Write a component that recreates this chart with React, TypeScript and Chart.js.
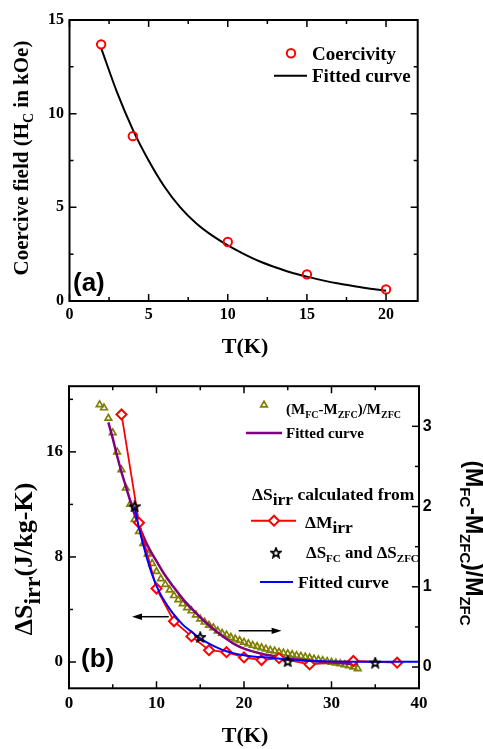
import React, { useEffect, useRef } from 'react';
import { Chart, registerables } from 'chart.js';

Chart.register(...registerables);

const SERIF = "'Liberation Serif', 'Times New Roman', serif";
const SANS = "'Liberation Sans', Arial, sans-serif";

// ---------- panel (a) ----------
const A_T = [2, 4, 10, 15, 20];
const A_HC = [13.7, 8.8, 3.15, 1.42, 0.62];
const A_FIT_T = [2, 3, 4, 5, 6, 7, 8, 9, 10, 11, 12, 13, 14, 15, 16, 17, 18, 19, 20];
const A_FIT_HC = [13.5, 11.15, 9.15, 7.5, 6.1, 5.0, 4.15, 3.5, 2.97, 2.52, 2.12, 1.8, 1.52, 1.3, 1.1, 0.93, 0.79, 0.66, 0.55];
const A_X_MAJOR = [0, 5, 10, 15, 20];
const A_X_MINOR = [2.5, 7.5, 12.5, 17.5];
const A_Y_MAJOR = [0, 5, 10, 15];
const A_Y_MINOR = [2.5, 7.5, 12.5];

// ---------- panel (b) ----------
const B_TRI_T = [3.5, 4, 4.5, 5, 5.5, 6, 6.5, 7, 7.5, 8, 8.5, 9, 9.5, 10, 10.5, 11, 11.5, 12, 12.5, 13, 13.5, 14, 14.5, 15, 15.5, 16, 16.5, 17, 17.5, 18, 18.5, 19, 19.5, 20, 20.5, 21, 21.5, 22, 22.5, 23, 23.5, 24, 24.5, 25, 25.5, 26, 26.5, 27, 27.5, 28, 28.5, 29, 29.5, 30, 30.5, 31, 31.5, 32, 32.5, 33];
const B_TRI_W = [3.27, 3.23, 3.10, 2.92, 2.68, 2.46, 2.23, 2.03, 1.84, 1.69, 1.54, 1.41, 1.29, 1.19, 1.10, 1.03, 0.96, 0.89, 0.84, 0.79, 0.74, 0.70, 0.65, 0.60, 0.56, 0.52, 0.49, 0.45, 0.42, 0.40, 0.37, 0.35, 0.33, 0.31, 0.29, 0.27, 0.255, 0.24, 0.225, 0.21, 0.20, 0.185, 0.175, 0.165, 0.155, 0.145, 0.135, 0.125, 0.115, 0.10, 0.09, 0.08, 0.07, 0.06, 0.05, 0.04, 0.03, 0.015, 0.0, -0.02];
const B_PUR_T = [4.5, 5, 5.5, 6, 6.5, 7, 7.5, 8, 8.5, 9, 9.5, 10, 11, 12, 13, 14, 15, 16, 17, 18, 19, 20, 22, 24, 26, 28, 30, 33];
const B_PUR_W = [3.05, 2.85, 2.63, 2.43, 2.25, 2.07, 1.90, 1.76, 1.63, 1.51, 1.41, 1.32, 1.14, 0.99, 0.85, 0.73, 0.62, 0.52, 0.43, 0.35, 0.28, 0.23, 0.165, 0.125, 0.095, 0.075, 0.055, 0.035];
const B_BLUE_T = [7.5, 8, 8.5, 9, 9.5, 10, 10.5, 11, 11.5, 12, 13, 14, 15, 16, 17, 18, 19, 20, 21, 23, 25, 27, 29, 32, 36, 40];
const B_BLUE_S = [11.85, 10.2, 8.9, 7.7, 6.65, 5.8, 5.1, 4.55, 4.05, 3.6, 2.85, 2.3, 1.8, 1.4, 1.08, 0.82, 0.64, 0.52, 0.43, 0.32, 0.2, 0.1, 0.05, 0.02, 0.02, 0.02];
const B_RED_T = [6, 8, 10, 12, 14, 16, 18, 20, 22, 24, 27.5, 32.5, 37.5];
const B_RED_S = [18.85, 10.6, 5.6, 3.1, 1.95, 0.9, 0.75, 0.35, 0.15, 0.3, -0.18, 0.08, -0.05];
const B_STAR_T = [7.5, 15, 25, 35];
const B_STAR_S = [11.85, 1.9, 0.05, -0.05];
const B_X_MAJOR = [0, 10, 20, 30, 40];
const B_X_MINOR = [5, 15, 25, 35];
const B_YL_MAJOR = [0, 8, 16];
const B_YL_MINOR = [4, 12, 20];
const B_YR_MAJOR = [0, 1, 2, 3];
const B_YR_MINOR = [0.5, 1.5, 2.5];
const B_ARROW_LEFT = [11.4, 7.2, 3.45];
const B_ARROW_RIGHT = [19.4, 24.3, 2.375];

const OLIVE = '#808000';
const PURPLE = '#800080';
const RED = '#ff0000';
const BLUE = '#0000ff';

type Seg = { t: string; size: number; dy?: number };

function richWidth(ctx: CanvasRenderingContext2D, segs: Seg[], fam: string) {
  let w = 0;
  for (const s of segs) {
    ctx.font = `bold ${s.size}px ${fam}`;
    w += ctx.measureText(s.t).width;
  }
  return w;
}

function drawRich(ctx: CanvasRenderingContext2D, segs: Seg[], x: number, y: number, fam: string, align: 'left' | 'center' = 'left', color = '#000') {
  ctx.save();
  ctx.fillStyle = color;
  ctx.textAlign = 'left';
  ctx.textBaseline = 'alphabetic';
  let cx = align === 'center' ? x - richWidth(ctx, segs, fam) / 2 : x;
  for (const s of segs) {
    ctx.font = `bold ${s.size}px ${fam}`;
    ctx.fillText(s.t, cx, y + (s.dy || 0));
    cx += ctx.measureText(s.t).width;
  }
  ctx.restore();
}

function drawRotated(ctx: CanvasRenderingContext2D, segs: Seg[], x: number, y: number, fam: string, angle: number) {
  ctx.save();
  ctx.translate(x, y);
  ctx.rotate(angle);
  drawRich(ctx, segs, 0, 0, fam, 'center');
  ctx.restore();
}

function xTicks(ctx: CanvasRenderingContext2D, chart: any, id: string, major: number[], minor: number[], mirror: boolean) {
  const s = chart.scales[id];
  const { top, bottom } = chart.chartArea;
  const one = (v: number, len: number) => {
    const p = s.getPixelForValue(v);
    ctx.beginPath();
    ctx.moveTo(p, bottom);
    ctx.lineTo(p, bottom - len);
    if (mirror) {
      ctx.moveTo(p, top);
      ctx.lineTo(p, top + len);
    }
    ctx.stroke();
  };
  major.forEach((v) => one(v, 7));
  minor.forEach((v) => one(v, 4));
}

function yTicks(ctx: CanvasRenderingContext2D, chart: any, id: string, major: number[], minor: number[], side: 'left' | 'right', mirror: boolean) {
  const s = chart.scales[id];
  const { left, right } = chart.chartArea;
  const one = (v: number, len: number) => {
    const p = s.getPixelForValue(v);
    ctx.beginPath();
    if (side === 'left' || mirror) {
      ctx.moveTo(left, p);
      ctx.lineTo(left + len, p);
    }
    if (side === 'right' || mirror) {
      ctx.moveTo(right, p);
      ctx.lineTo(right - len, p);
    }
    ctx.stroke();
  };
  major.forEach((v) => one(v, 7));
  minor.forEach((v) => one(v, 4));
}

function frame(ctx: CanvasRenderingContext2D, chart: any) {
  const { left, right, top, bottom } = chart.chartArea;
  ctx.save();
  ctx.strokeStyle = '#000';
  ctx.lineWidth = 2;
  ctx.strokeRect(left, top, right - left, bottom - top);
  ctx.restore();
}

function triMarker(ctx: CanvasRenderingContext2D, x: number, y: number, r: number) {
  ctx.beginPath();
  for (let i = 0; i < 3; i++) {
    const a = -Math.PI / 2 + (i * 2 * Math.PI) / 3;
    const px = x + r * Math.cos(a);
    const py = y + r * Math.sin(a);
    if (i === 0) ctx.moveTo(px, py);
    else ctx.lineTo(px, py);
  }
  ctx.closePath();
}

function makeStar(): HTMLCanvasElement {
  const c = document.createElement('canvas');
  c.width = 12;
  c.height = 12;
  const g = c.getContext('2d') as CanvasRenderingContext2D;
  g.beginPath();
  for (let i = 0; i < 10; i++) {
    const r = i % 2 === 0 ? 5 : 2.2;
    const a = -Math.PI / 2 + (i * Math.PI) / 5;
    const px = 6 + r * Math.cos(a);
    const py = 6.4 + r * Math.sin(a);
    if (i === 0) g.moveTo(px, py);
    else g.lineTo(px, py);
  }
  g.closePath();
  g.lineWidth = 1.7;
  g.strokeStyle = '#000';
  g.stroke();
  return c;
}

function arrow(ctx: CanvasRenderingContext2D, x1: number, x2: number, y: number) {
  const dir = Math.sign(x2 - x1);
  ctx.save();
  ctx.strokeStyle = '#000';
  ctx.fillStyle = '#000';
  ctx.lineWidth = 1.5;
  ctx.beginPath();
  ctx.moveTo(x1, y);
  ctx.lineTo(x2 - dir * 6, y);
  ctx.stroke();
  ctx.beginPath();
  ctx.moveTo(x2, y);
  ctx.lineTo(x2 - dir * 10, y - 3.2);
  ctx.lineTo(x2 - dir * 10, y + 3.2);
  ctx.closePath();
  ctx.fill();
  ctx.restore();
}

function linScale(min: number, max: number, ticks: number[], fam: string, size: number, pad: number, fit: (s: any) => void, extra: any = {}) {
  return {
    type: 'linear',
    min,
    max,
    afterBuildTicks: (s: any) => {
      s.ticks = ticks.map((v) => ({ value: v }));
    },
    afterFit: fit,
    grid: { display: false, drawTicks: false },
    border: { display: false },
    ticks: { color: '#000', padding: pad, autoSkip: false, maxRotation: 0, font: { family: fam, size, weight: 'bold' } },
    ...extra,
  };
}

export default function App() {
  const refA = useRef<HTMLCanvasElement>(null);
  const refB = useRef<HTMLCanvasElement>(null);

  useEffect(() => {
    const star = makeStar();

    const plugA = {
      id: 'decorA',
      afterDraw(chart: any) {
        const ctx: CanvasRenderingContext2D = chart.ctx;
        ctx.save();
        frame(ctx, chart);
        ctx.strokeStyle = '#000';
        ctx.lineWidth = 1.5;
        xTicks(ctx, chart, 'x', A_X_MAJOR, A_X_MINOR, true);
        yTicks(ctx, chart, 'y', A_Y_MAJOR, A_Y_MINOR, 'left', true);
        // legend
        ctx.strokeStyle = RED;
        ctx.lineWidth = 2;
        ctx.beginPath();
        ctx.arc(291, 53.3, 4.2, 0, Math.PI * 2);
        ctx.stroke();
        drawRich(ctx, [{ t: 'Coercivity', size: 19 }], 312, 59.5, SERIF);
        ctx.strokeStyle = '#000';
        ctx.lineWidth = 2;
        ctx.beginPath();
        ctx.moveTo(274, 75.7);
        ctx.lineTo(307, 75.7);
        ctx.stroke();
        drawRich(ctx, [{ t: 'Fitted curve', size: 19 }], 312, 82, SERIF);
        // panel label
        drawRich(ctx, [{ t: '(a)', size: 26 }], 73, 291, SANS);
        // axis titles
        drawRich(ctx, [{ t: 'T(K)', size: 22 }], 245, 353, SERIF, 'center');
        drawRotated(ctx, [{ t: 'Coercive field (H', size: 21 }, { t: 'C', size: 14, dy: 5 }, { t: ' in kOe)', size: 21 }], 28, 158, SERIF, -Math.PI / 2);
        ctx.restore();
      },
    };

    const chartA = new Chart(refA.current as HTMLCanvasElement, {
      type: 'scatter',
      data: {
        datasets: [
          {
            label: 'Coercivity',
            data: A_T.map((x, i) => ({ x, y: A_HC[i] })),
            pointStyle: 'circle',
            pointRadius: 4.2,
            pointBorderWidth: 2,
            pointBorderColor: RED,
            pointBackgroundColor: 'rgba(0,0,0,0)',
            showLine: false,
            order: 0,
          },
          {
            label: 'Fitted curve',
            data: A_FIT_T.map((x, i) => ({ x, y: A_FIT_HC[i] })),
            showLine: true,
            borderColor: '#000',
            borderWidth: 2,
            pointRadius: 0,
            cubicInterpolationMode: 'monotone',
            order: 1,
          },
        ],
      },
      options: {
        responsive: false,
        animation: false,
        events: [],
        layout: { padding: { top: 20, right: 65.3, left: 0, bottom: 0 } },
        plugins: { legend: { display: false }, tooltip: { enabled: false } },
        scales: {
          x: linScale(0, 22, A_X_MAJOR, SERIF, 16, 4, (s: any) => { s.height = 69; }),
          y: linScale(0, 15, A_Y_MAJOR, SERIF, 16, 5.5, (s: any) => { s.width = 69.5; }),
        },
      } as any,
      plugins: [plugA],
    } as any);

    const plugB = {
      id: 'decorB',
      afterDraw(chart: any) {
        const ctx: CanvasRenderingContext2D = chart.ctx;
        const sx = chart.scales.x;
        const sy = chart.scales.y;
        ctx.save();
        frame(ctx, chart);
        ctx.strokeStyle = '#000';
        ctx.lineWidth = 1.5;
        xTicks(ctx, chart, 'x', B_X_MAJOR, B_X_MINOR, true);
        yTicks(ctx, chart, 'y', B_YL_MAJOR, B_YL_MINOR, 'left', false);
        yTicks(ctx, chart, 'y2', B_YR_MAJOR, B_YR_MINOR, 'right', false);
        // arrows
        arrow(ctx, sx.getPixelForValue(B_ARROW_LEFT[0]), sx.getPixelForValue(B_ARROW_LEFT[1]), sy.getPixelForValue(B_ARROW_LEFT[2]));
        arrow(ctx, sx.getPixelForValue(B_ARROW_RIGHT[0]), sx.getPixelForValue(B_ARROW_RIGHT[1]), sy.getPixelForValue(B_ARROW_RIGHT[2]));
        // legend
        ctx.strokeStyle = OLIVE;
        ctx.lineWidth = 1.7;
        triMarker(ctx, 264, 35, 3.8);
        ctx.stroke();
        drawRich(ctx, [
          { t: '(M', size: 15 }, { t: 'FC', size: 10, dy: 3.5 }, { t: '-M', size: 15 }, { t: 'ZFC', size: 10, dy: 3.5 }, { t: ')/M', size: 15 }, { t: 'ZFC', size: 10, dy: 3.5 },
        ], 286, 44, SERIF);
        ctx.strokeStyle = PURPLE;
        ctx.lineWidth = 2.5;
        ctx.beginPath();
        ctx.moveTo(246, 63);
        ctx.lineTo(282, 63);
        ctx.stroke();
        drawRich(ctx, [{ t: 'Fitted curve', size: 15 }], 286, 68, SERIF);

        drawRich(ctx, [{ t: '\u0394S', size: 17.5 }, { t: 'irr', size: 17.5, dy: 5 }, { t: ' calculated from', size: 17.5 }], 252, 130, SERIF);
        ctx.strokeStyle = RED;
        ctx.lineWidth = 2;
        ctx.beginPath();
        ctx.moveTo(251, 150.7);
        ctx.lineTo(296, 150.7);
        ctx.stroke();
        ctx.beginPath();
        ctx.moveTo(274, 145.7);
        ctx.lineTo(279, 150.7);
        ctx.lineTo(274, 155.7);
        ctx.lineTo(269, 150.7);
        ctx.closePath();
        ctx.fillStyle = '#fff';
        ctx.fill();
        ctx.stroke();
        drawRich(ctx, [{ t: '\u0394M', size: 17.5 }, { t: 'irr', size: 17.5, dy: 5 }], 305, 158, SERIF);
        ctx.drawImage(star, 276 - 6, 182.7 - 6);
        drawRich(ctx, [
          { t: '\u0394S', size: 17 }, { t: 'FC', size: 11, dy: 4 }, { t: ' and \u0394S', size: 17 }, { t: 'ZFC', size: 11, dy: 4 },
        ], 306, 188, SERIF);
        ctx.strokeStyle = BLUE;
        ctx.lineWidth = 2;
        ctx.beginPath();
        ctx.moveTo(260, 212);
        ctx.lineTo(293, 212);
        ctx.stroke();
        drawRich(ctx, [{ t: 'Fitted curve', size: 17.5 }], 298, 218, SERIF);

        drawRich(ctx, [{ t: '(b)', size: 26 }], 81, 296.5, SANS);
        drawRich(ctx, [{ t: 'T(K)', size: 22 }], 245, 372, SERIF, 'center');
        drawRotated(ctx, [{ t: '\u0394S', size: 26 }, { t: 'irr', size: 24, dy: 8 }, { t: '(J/kg-K)', size: 26 }], 32, 189, SERIF, -Math.PI / 2);
        drawRotated(ctx, [
          { t: '(M', size: 23 }, { t: 'FC', size: 15, dy: 6 }, { t: '-M', size: 23 }, { t: 'ZFC', size: 15, dy: 6 }, { t: ')/M', size: 23 }, { t: 'ZFC', size: 15, dy: 6 },
        ], 466, 173, SANS, Math.PI / 2);
        ctx.restore();
      },
    };

    const chartB = new Chart(refB.current as HTMLCanvasElement, {
      type: 'scatter',
      data: {
        datasets: [
          {
            label: 'stars',
            data: B_STAR_T.map((x, i) => ({ x, y: B_STAR_S[i] })),
            yAxisID: 'y',
            pointStyle: star,
            pointRadius: 5,
            showLine: false,
            order: 0,
          },
          {
            label: 'blue fit',
            data: B_BLUE_T.map((x, i) => ({ x, y: B_BLUE_S[i] })),
            yAxisID: 'y',
            showLine: true,
            borderColor: BLUE,
            borderWidth: 2,
            pointRadius: 0,
            cubicInterpolationMode: 'monotone',
            order: 1,
          },
          {
            label: 'dM irr',
            data: B_RED_T.map((x, i) => ({ x, y: B_RED_S[i] })),
            yAxisID: 'y',
            showLine: true,
            borderColor: RED,
            borderWidth: 1.8,
            pointStyle: 'rectRot',
            pointRadius: 5,
            pointBorderWidth: 2,
            pointBorderColor: RED,
            pointBackgroundColor: '#fff',
            tension: 0,
            order: 2,
          },
          {
            label: 'purple fit',
            data: B_PUR_T.map((x, i) => ({ x, y: B_PUR_W[i] })),
            yAxisID: 'y2',
            showLine: true,
            borderColor: PURPLE,
            borderWidth: 2.5,
            pointRadius: 0,
            cubicInterpolationMode: 'monotone',
            order: 3,
          },
          {
            label: 'ratio',
            data: B_TRI_T.map((x, i) => ({ x, y: B_TRI_W[i] })),
            yAxisID: 'y2',
            showLine: false,
            pointStyle: 'triangle',
            pointRadius: 3.8,
            pointBorderWidth: 1.7,
            pointBorderColor: OLIVE,
            pointBackgroundColor: 'rgba(0,0,0,0)',
            order: 4,
          },
        ],
      },
      options: {
        responsive: false,
        animation: false,
        events: [],
        layout: { padding: { top: 11.7, right: 0, left: 0, bottom: 0 } },
        plugins: { legend: { display: false }, tooltip: { enabled: false } },
        scales: {
          x: linScale(0, 40, B_X_MAJOR, SERIF, 17, 5.5, (s: any) => { s.height = 60.7; }),
          y: linScale(-2, 21, B_YL_MAJOR, SERIF, 17, 6, (s: any) => { s.width = 69; }, { position: 'left' }),
          y2: linScale(-0.265, 3.5, B_YR_MAJOR, SANS, 16, 3.7, (s: any) => { s.width = 64; }, { position: 'right' }),
        },
      } as any,
      plugins: [plugB],
    } as any);

    return () => {
      chartA.destroy();
      chartB.destroy();
    };
  }, []);

  return (
    <div style={{ position: 'absolute', left: 0, top: 0, width: 483, height: 749, background: '#fff' }}>
      <canvas ref={refA} width={483} height={370} style={{ display: 'block', width: 483, height: 370 }} />
      <canvas ref={refB} width={483} height={379} style={{ display: 'block', width: 483, height: 379 }} />
    </div>
  );
}
